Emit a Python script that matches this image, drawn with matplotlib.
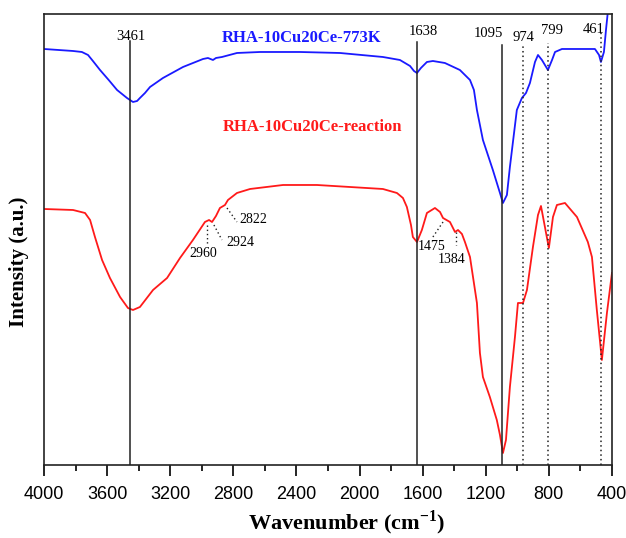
import matplotlib
matplotlib.use("Agg")
import matplotlib.pyplot as plt
from matplotlib.ticker import MultipleLocator

# FTIR spectra (wavenumber in cm-1, intensity in arbitrary units)
wn_773k = [4000, 3816, 3760, 3721, 3690, 3645, 3590, 3537, 3474, 3436, 3410, 3392, 3360,
           3328, 3246, 3119, 2992, 2961, 2929, 2910, 2872, 2777, 2631, 2378, 2124, 1852,
           1744, 1680, 1655, 1636, 1611, 1573, 1535, 1459, 1364, 1300, 1275, 1256, 1218,
           1155, 1110, 1091, 1066, 1047, 1003, 971, 945, 920, 888, 869, 844, 806, 780,
           761, 717, 508, 482, 470, 451, 438, 425, 400]
int_773k = [416, 414, 413, 410, 404, 395, 385, 375, 367, 363, 364, 367, 372,
            378, 387, 398, 406, 407, 405, 407, 408, 412, 413, 413, 412, 408,
            405, 399, 394, 392, 397, 403, 404, 402, 395, 385, 375, 355, 325,
            295, 272, 262, 270, 298, 355, 367, 372, 382, 403, 410, 405, 395, 405,
            413, 416, 416, 410, 403, 413, 435, 455, 485]

wn_reaction = [4000, 3816, 3740, 3708, 3677, 3632, 3582, 3518, 3468, 3436, 3392, 3309,
               3220, 3138, 3056, 2980, 2954, 2935, 2910, 2885, 2853, 2834, 2777, 2694,
               2485, 2270, 2061, 1852, 1763, 1725, 1700, 1674, 1662, 1636, 1605, 1573,
               1522, 1490, 1471, 1427, 1395, 1376, 1351, 1332, 1300, 1256, 1237, 1218,
               1174, 1130, 1110, 1091, 1072, 1047, 1015, 996, 964, 939, 901, 869, 850,
               825, 800, 774, 749, 698, 622, 553, 527, 496, 464, 432, 400]
int_reaction = [256, 255, 252, 245, 228, 205, 187, 168, 157, 155, 158, 175,
                187, 207, 225, 243, 245, 243, 249, 257, 260, 265, 272, 276,
                280, 280, 278, 276, 272, 267, 258, 240, 228, 223, 235, 252,
                257, 253, 247, 243, 233, 235, 231, 223, 208, 162, 112, 88,
                68, 45, 30, 12, 25, 78, 128, 162, 162, 175, 218, 250, 259,
                238, 217, 248, 260, 262, 248, 223, 208, 155, 105, 152, 192]

# marked bands: label, line position, line top, label x, label y
solid_labels = ["3461", "1638", "1095"]
solid_pos = [3455, 1636, 1097]
solid_top = [424, 423, 420]
solid_lab_x = [3449, 1598, 1186]
solid_lab_y = [428, 433, 431]

dotted_labels = ["974", "799", "461"]
dotted_pos = [964, 806, 470]
dotted_top = [420, 422, 435]
dotted_lab_x = [964, 780, 514]
dotted_lab_y = [427, 434, 435]

# small bands on the reaction curve: label, label x, label y, ha, leader (x0, y0, x1, y1)
small_labels = ["2960", "2924", "2822", "1475", "1384"]
small_lab_x = [2992, 2847, 2764, 1541, 1414]
small_lab_y = [211, 222, 245, 218, 205]
small_ha = ["center", "left", "left", "center", "center"]
small_leaders = [(2967, 240, 2967, 220), (2923, 240, 2872, 225), (2840, 257, 2777, 243),
                 (1471, 243, 1535, 228), (1389, 233, 1389, 220)]

plt.rcParams['mathtext.fontset'] = 'custom'
plt.rcParams['mathtext.rm'] = 'Liberation Serif'
plt.rcParams['mathtext.bf'] = 'Liberation Serif:bold'

fig = plt.figure(figsize=(6.26, 5.38), dpi=100)
ax = fig.add_axes([0.0703, 0.1357, 0.9073, 0.8383])

ax.plot(wn_773k, int_773k, color='#1a1aff', linewidth=1.3)
ax.plot(wn_reaction, int_reaction, color='#ff1a1a', linewidth=1.3)

serif = 'Liberation Serif'
for lab, pos, top, lx, ly in zip(solid_labels, solid_pos, solid_top, solid_lab_x, solid_lab_y):
    ax.plot([pos, pos], [0, top], color='#222222', linewidth=1.1)
    ax.text(lx, ly, lab, ha='center', va='center', fontsize=10.5, family=serif)

for lab, pos, top, lx, ly in zip(dotted_labels, dotted_pos, dotted_top, dotted_lab_x, dotted_lab_y):
    ax.plot([pos, pos], [0, top], color='#222222', linewidth=1.1, linestyle=(0, (1, 2)))
    ax.text(lx, ly, lab, ha='center', va='center', fontsize=10.5, family=serif)

for lab, lx, ly, ha, (x0, y0, x1, y1) in zip(small_labels, small_lab_x, small_lab_y,
                                             small_ha, small_leaders):
    ax.plot([x0, x1], [y0, y1], color='#222222', linewidth=1.0, linestyle=(0, (1, 2)))
    ax.text(lx, ly, lab, ha=ha, va='center', fontsize=10, family=serif)

ax.text(2872, 427, 'RHA-10Cu20Ce-773K', color='#1a1aff', fontsize=12, fontweight='bold',
        family=serif, va='center', ha='left')
ax.text(2865, 338, 'RHA-10Cu20Ce-reaction', color='#ff1a1a', fontsize=12, fontweight='bold',
        family=serif, va='center', ha='left')

ax.set_xlim(4000, 400)
ax.set_ylim(0, 451)
ax.xaxis.set_major_locator(MultipleLocator(400))
ax.xaxis.set_minor_locator(MultipleLocator(200))
ax.tick_params(axis='x', which='major', direction='out', length=8, width=1.2,
               labelsize=13, pad=7)
ax.tick_params(axis='x', which='minor', direction='out', length=4, width=1.2)
ax.tick_params(axis='y', left=False, labelleft=False)
for lbl in ax.get_xticklabels():
    lbl.set_family('Liberation Sans')
for sp in ax.spines.values():
    sp.set_linewidth(1.2)
    sp.set_color('#222222')

fig.text(0.553, 0.029, r'Wavenumber (cm$^{\mathbf{-1}}$)', ha='center', va='center',
         fontsize=16, fontweight='bold', family=serif)
fig.text(0.030, 0.513, 'Intensity (a.u.)', ha='center', va='center', rotation=90,
         fontsize=15, fontweight='bold', family=serif)

fig.savefig('out.png', dpi=100)
